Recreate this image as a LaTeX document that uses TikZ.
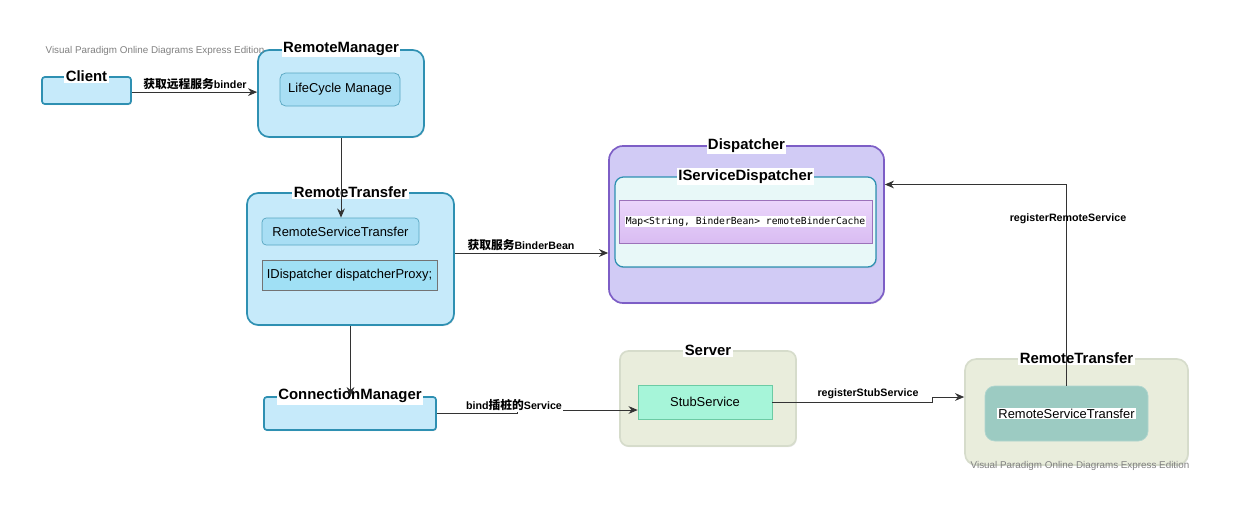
\documentclass[tikz,border=0pt]{standalone}
\usepackage{fontspec}
\setmainfont{Liberation Sans}
\setmonofont{DejaVu Sans Mono}
\newfontfamily\cjk[Scale=1.1]{Noto Sans CJK SC}
\usetikzlibrary{arrows.meta,shadows}
\newcommand{\unit}{0.025cm}

\definecolor{boxblue}{HTML}{C6EAFA}
\definecolor{edgeblue}{HTML}{2E90B2}
\definecolor{innerblue}{HTML}{A8DEF4}
\definecolor{dispfill}{HTML}{D1CBF5}
\definecolor{dispedge}{HTML}{7D5EC6}
\definecolor{isdfill}{HTML}{E8F8F8}
\definecolor{maptop}{HTML}{EBD6FB}
\definecolor{mapbottom}{HTML}{D9BCF2}
\definecolor{mapedge}{HTML}{9C72BA}
\definecolor{srvfill}{HTML}{E9EDDC}
\definecolor{srvedge}{HTML}{D6DCCB}
\definecolor{stubfill}{HTML}{A6F5D9}
\definecolor{stubedge}{HTML}{6CCBA4}
\definecolor{tealfill}{HTML}{9CCBC2}

\begin{document}
\begin{tikzpicture}[x=\unit,y=-\unit,
    box/.style={draw=edgeblue, line width=1.2pt, fill=boxblue, inner sep=0pt,
      drop shadow={opacity=0.2, shadow xshift=0.6pt, shadow yshift=-0.8pt}},
    inbox/.style={draw=edgeblue!80, line width=0.5pt, fill=innerblue, inner sep=0pt,
      font=\fontsize{9.2}{11}\selectfont},
    title/.style={fill=white, inner sep=1pt, font=\bfseries\fontsize{10.6}{12}\selectfont},
    lbl/.style={fill=white, inner sep=0.8pt, anchor=south, font=\bfseries\fontsize{7.6}{9}\selectfont},
    wmark/.style={text=black!50, inner sep=0pt, font=\fontsize{7}{8}\selectfont},
    link/.style={draw=black!80, line width=0.6pt, -{Stealth[length=6.5pt,width=5.5pt]}}]

    \useasboundingbox (0,0) rectangle (1240,520);

        % left column
        \node (client) at (86.5,90.5) [box, rounded corners=2pt, minimum width=89*\unit, minimum height=27*\unit] {};
        \node (rm) at (341,93.5) [box, rounded corners=8pt, minimum width=166*\unit, minimum height=87*\unit] {};
        \node (lcm) at (340,89.5) [inbox, rounded corners=4pt, minimum width=120*\unit, minimum height=33*\unit] {LifeCycle Manage};
        \node (rtl) at (350.5,259) [box, rounded corners=8pt, minimum width=207*\unit, minimum height=132*\unit] {};
        \node (rst) at (340.5,231.5) [inbox, rounded corners=3pt, minimum width=157*\unit, minimum height=27*\unit] {RemoteServiceTransfer};
        \node (proxy) at (349.5,275) [inbox, draw=black!55, fill=innerblue!95!cyan, minimum width=175*\unit, minimum height=30*\unit] {IDispatcher dispatcherProxy;};
        \node (cm) at (350,413.5) [box, rounded corners=2pt, minimum width=172*\unit, minimum height=33*\unit] {};

        % dispatcher
        \node (disp) at (746.5,224.5) [box, draw=dispedge, fill=dispfill, rounded corners=10pt, minimum width=275*\unit, minimum height=157*\unit] {};
        \node (isd) at (745.5,222) [box, line width=0.9pt, fill=isdfill, drop shadow={opacity=0}, rounded corners=6pt, minimum width=261*\unit, minimum height=90*\unit] {};
        \node (map) at (745.5,221.5) [draw=mapedge, line width=0.6pt, top color=maptop, bottom color=mapbottom, inner sep=0pt, minimum width=253*\unit, minimum height=43*\unit] {};
        \node (mapT) at (map) [fill=white, inner sep=0.6pt, font=\ttfamily\fontsize{6.9}{8}\selectfont] {Map<String, BinderBean> remoteBinderCache};

        % server side
        \node (server) at (708,398.5) [box, draw=srvedge, fill=srvfill, rounded corners=6pt, minimum width=176*\unit, minimum height=95*\unit] {};
        \node (stub) at (705,402) [inbox, draw=stubedge, fill=stubfill, minimum width=134*\unit, minimum height=34*\unit] {StubService};
        \node (rtr) at (1076.5,412) [box, draw=srvedge, fill=srvfill, rounded corners=8pt, minimum width=223*\unit, minimum height=106*\unit] {};
        \node (rsr) at (1066.5,413.5) [inbox, draw=tealfill!80!white, fill=tealfill, rounded corners=7pt, minimum width=163*\unit, minimum height=55*\unit] {};
        \node (rsrT) at (rsr) [fill=white, inner sep=0.8pt, font=\fontsize{9.2}{11}\selectfont] {RemoteServiceTransfer};

        % titles
        \node (clientT) at (client.north) [title] {Client};
        \node (rmT) at (rm.north) [title] {RemoteManager};
        \node (rtlT) at (rtl.north) [title] {RemoteTransfer};
        \node (cmT) at (cm.north) [title] {ConnectionManager};
        \node (dispT) at (disp.north) [title] {Dispatcher};
        \node (isdT) at (isd.north) [title] {IServiceDispatcher};
        \node (serverT) at (server.north) [title] {Server};
        \node (rtrT) at (rtr.north) [title] {RemoteTransfer};

        % connectors
        \draw[link] ([yshift=-0.04cm]client.east) -- ([yshift=-0.04cm]client.east -| rm.west);
        \draw[link] (rm.south) -- (rm.south |- rst.north);
        \draw[link] ([yshift=0.15cm]rtl.east) -- ([yshift=0.15cm]rtl.east -| disp.west);
        \draw[link] (rtl.south) -- (rtl.south |- cm.north);
        \draw[link] (cm.east) -- ++(81,0) |- ([yshift=-0.2cm]stub.west);
        \draw[link] (stub.east) -- ++(160,0) |- ([yshift=0.375cm]rtr.west);
        \draw[link] (rsr.north) |- ([yshift=1cm]disp.east);

        \node (l1) at (195,91.5) [lbl] {{\cjk 获取远程服务}binder};
        \node (l2) at (521,252) [lbl] {{\cjk 获取服务}BinderBean};
        \node (l3) at (514,412) [lbl] {bind{\cjk 插桩的}Service};
        \node (l4) at (868,400) [lbl] {registerStubService};
        \node (l5) at (1068,219) [lbl, anchor=center, fill=none] {registerRemoteService};

        \node (wm1) at (155,51) [wmark] {Visual Paradigm Online Diagrams Express Edition};
        \node (wm2) at (1080,465.5) [wmark] {Visual Paradigm Online Diagrams Express Edition};

\end{tikzpicture}
\end{document}
